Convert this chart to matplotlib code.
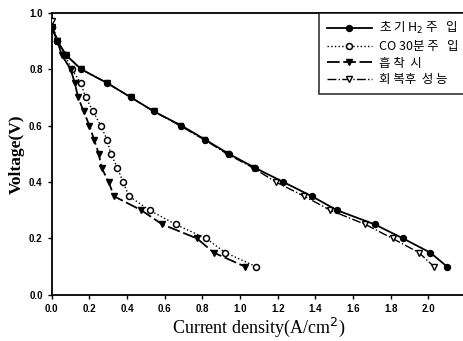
import matplotlib
matplotlib.use("Agg")
import matplotlib.pyplot as plt

voltage = [0.95, 0.90, 0.85, 0.80, 0.75, 0.70, 0.65, 0.60, 0.55, 0.50,
           0.45, 0.40, 0.35, 0.30, 0.25, 0.20, 0.15, 0.10]
voltage_rec = [0.97] + voltage[1:]

cd_initial = [0.0, 0.03, 0.076, 0.155, 0.296, 0.42, 0.543, 0.688, 0.815, 0.94,
              1.08, 1.23, 1.38, 1.515, 1.715, 1.866, 2.01, 2.10]
cd_co30 = [0.0, 0.03, 0.07, 0.106, 0.155, 0.18, 0.22, 0.26, 0.294, 0.314,
           0.349, 0.379, 0.41, 0.52, 0.658, 0.82, 0.922, 1.086]
cd_adsorb = [0.0, 0.03, 0.053, 0.10, 0.123, 0.14, 0.17, 0.20, 0.225, 0.25,
             0.265, 0.303, 0.33, 0.476, 0.587, 0.772, 0.86, 1.028]
cd_recover = [0.0, 0.03, 0.076, 0.155, 0.296, 0.42, 0.543, 0.68, 0.81, 0.93,
              1.07, 1.19, 1.34, 1.48, 1.665, 1.81, 1.95, 2.03]

labels = ["초 기 H$_2$ 주   입", "CO 30분 주   입", "흡 착  시", "회 복후  성 능"]
xticks = [0.0, 0.2, 0.4, 0.6, 0.8, 1.0, 1.2, 1.4, 1.6, 1.8, 2.0, 2.2]
xtick_labels = ["0.0", "0.2", "0.4", "0.6", "0.8", "1.0", "1.2", "1.4", "1.6", "1.8", "2.0", "2"]
yticks = [0.0, 0.2, 0.4, 0.6, 0.8, 1.0]

fig = plt.figure(figsize=(4.64, 3.41), dpi=100)
ax = fig.add_axes([0.1114, 0.135, 0.893, 0.828])

ms = 4.3
ax.plot(cd_initial, voltage, '-', color='black', lw=1.3, marker='o', ms=ms,
        mfc='black', mec='black', label=labels[0], zorder=4)
ax.plot(cd_co30, voltage, ':', color='black', lw=1.0, marker='o', ms=ms,
        mfc='white', mec='black', mew=1.1, label=labels[1], zorder=3)
ax.plot(cd_adsorb, voltage, '--', dashes=(7, 2), color='black', lw=1.3, marker='v', ms=ms + 0.5,
        mfc='black', mec='black', label=labels[2], zorder=4)
ax.plot(cd_recover, voltage_rec, '-.', color='black', lw=1.0, marker='v', ms=ms + 0.5,
        mfc='white', mec='black', mew=1.0, label=labels[3], zorder=3)

ax.set_xlim(0, 2.2)
ax.set_ylim(0, 1.0)
ax.set_xticks(xticks)
ax.set_xticklabels(xtick_labels)
ax.set_yticks(yticks)
ax.set_yticklabels(["0.0", "0.2", "0.4", "0.6", "0.8", "1.0"])
ax.tick_params(direction='out', length=3, width=1, labelsize=7)
for lab in ax.get_xticklabels() + ax.get_yticklabels():
    lab.set_fontfamily('Liberation Sans')
    lab.set_fontweight('bold')
for sp in ax.spines.values():
    sp.set_linewidth(1.3)

ax.set_ylabel("Voltage(V)", family='Liberation Serif', fontweight='bold', fontsize=12.5, labelpad=3)
ax.set_xlabel("Current density(A/cm$^2$)", family='Liberation Serif', fontsize=13, labelpad=1)

leg = ax.legend(loc='upper right', bbox_to_anchor=(1.0, 1.0), borderaxespad=0,
                prop={'family': ['Noto Sans CJK KR', 'DejaVu Sans'], 'size': 9},
                frameon=True, fancybox=False, handlelength=3.6, handletextpad=0.6,
                labelspacing=0.3, borderpad=0.6)
leg.get_frame().set_edgecolor('black')
leg.get_frame().set_linewidth(1.2)

fig.savefig("out.png", dpi=100)
